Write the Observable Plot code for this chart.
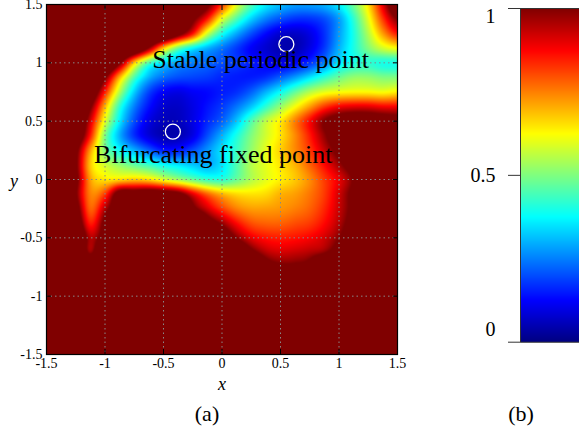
<!DOCTYPE html>
<html><head><meta charset="utf-8">
<script src="https://cdn.jsdelivr.net/npm/d3@7"></script>
<script src="https://cdn.jsdelivr.net/npm/@observablehq/plot@0.6"></script>
<style>
html,body{margin:0;padding:0;background:#fff;}
#wrap{position:relative;width:579px;height:441px;overflow:hidden;font-family:"Liberation Serif","Times New Roman",serif;}
#main{position:absolute;left:0;top:0;width:420px;}
#cbar{position:absolute;left:440px;top:0;width:200px;}
#main svg,#cbar svg{max-width:none;}
.lbl{position:absolute;color:#000;white-space:nowrap;transform:translate(-50%,-50%);line-height:1;}
</style></head><body>
<div id="wrap">
  <div id="main"></div>
  <div id="cbar"></div>
  <div class="lbl" style="left:222px;top:384px;font-size:18px;font-style:italic">x</div>
  <div class="lbl" style="left:14px;top:181px;font-size:18px;font-style:italic">y</div>
  <div class="lbl" style="left:207px;top:414px;font-size:22px">(a)</div>
  <div class="lbl" style="left:521px;top:414px;font-size:22px">(b)</div>
</div>
<script>
// grid node coordinates
const gridX = [-1.5,-1.375,-1.25,-1.125,-1,-0.875,-0.75,-0.625,-0.5,-0.375,-0.25,-0.125,0,0.125,0.25,0.375,0.5,0.625,0.75,0.875,1,1.125,1.25,1.375,1.5];
const gridY = [1.5,1.375,1.25,1.125,1,0.875,0.75,0.625,0.5,0.375,0.25,0.125,0,-0.125,-0.25,-0.375,-0.5,-0.625,-0.75,-0.875,-1,-1.125,-1.25,-1.375,-1.5];
// field values (>1 = saturated dark red), one row per gridY
const zRows = [
 [1.3,1.3,1.3,1.3,1.3,1.3,1.3,1.3,1.3,1.25,1.15,1.03,0.82,0.6,0.45,0.36,0.31,0.28,0.28,0.3,0.36,0.48,0.65,0.9,1.15],
 [1.3,1.3,1.3,1.3,1.3,1.3,1.3,1.3,1.3,1.18,1.03,0.85,0.6,0.45,0.33,0.25,0.2,0.17,0.17,0.2,0.28,0.42,0.6,0.82,1.0],
 [1.3,1.3,1.3,1.3,1.3,1.3,1.3,1.3,1.25,1.06,0.86,0.58,0.4,0.29,0.2,0.13,0.08,0.07,0.1,0.17,0.28,0.4,0.55,0.72,0.85],
 [1.3,1.3,1.3,1.3,1.3,1.3,1.2,0.98,0.68,0.48,0.37,0.3,0.24,0.18,0.12,0.08,0.05,0.05,0.1,0.18,0.3,0.4,0.5,0.58,0.62],
 [1.3,1.3,1.3,1.3,1.25,1.02,0.68,0.45,0.35,0.28,0.25,0.23,0.2,0.18,0.15,0.12,0.1,0.12,0.17,0.25,0.35,0.4,0.42,0.4,0.4],
 [1.3,1.3,1.3,1.25,1.02,0.7,0.45,0.3,0.23,0.2,0.19,0.18,0.16,0.15,0.15,0.17,0.22,0.28,0.35,0.42,0.48,0.52,0.52,0.5,0.5],
 [1.3,1.3,1.3,1.15,0.85,0.55,0.33,0.19,0.12,0.1,0.12,0.13,0.15,0.17,0.22,0.3,0.38,0.47,0.55,0.6,0.62,0.63,0.63,0.62,0.64],
 [1.3,1.3,1.25,1.02,0.7,0.42,0.25,0.14,0.08,0.07,0.1,0.14,0.18,0.24,0.32,0.42,0.52,0.62,0.72,0.82,0.88,0.9,0.9,0.88,0.88],
 [1.3,1.3,1.2,0.92,0.6,0.36,0.2,0.1,0.06,0.06,0.1,0.16,0.22,0.32,0.45,0.56,0.64,0.75,0.87,1.0,1.08,1.12,1.12,1.1,1.08],
 [1.3,1.3,1.15,0.85,0.5,0.3,0.17,0.09,0.05,0.05,0.1,0.2,0.3,0.4,0.5,0.58,0.65,0.74,0.85,0.98,1.1,1.2,1.25,1.25,1.25],
 [1.3,1.3,1.05,0.72,0.5,0.38,0.3,0.22,0.15,0.15,0.2,0.27,0.35,0.43,0.52,0.6,0.67,0.74,0.82,0.93,1.05,1.2,1.3,1.3,1.3],
 [1.3,1.3,1.03,0.68,0.58,0.52,0.47,0.43,0.38,0.35,0.32,0.3,0.35,0.45,0.55,0.6,0.65,0.7,0.78,0.87,0.97,1.1,1.3,1.3,1.3],
 [1.3,1.3,1.05,0.72,0.65,0.66,0.68,0.66,0.6,0.54,0.48,0.43,0.42,0.48,0.55,0.6,0.64,0.68,0.74,0.82,0.9,1.02,1.25,1.25,1.25],
 [1.3,1.3,1.02,0.75,0.82,1.08,1.1,1.12,1.1,1.05,0.9,0.78,0.7,0.66,0.65,0.66,0.7,0.72,0.76,0.82,0.92,1.05,1.25,1.25,1.25],
 [1.3,1.3,1.08,0.78,0.95,1.15,1.3,1.3,1.3,1.3,1.05,0.92,0.82,0.75,0.72,0.72,0.73,0.75,0.78,0.84,0.93,1.05,1.25,1.25,1.25],
 [1.3,1.3,1.15,0.85,1.05,1.3,1.3,1.3,1.3,1.3,1.3,1.1,0.98,0.87,0.8,0.78,0.78,0.8,0.82,0.87,0.95,1.08,1.25,1.25,1.25],
 [1.3,1.3,1.25,0.95,1.1,1.3,1.3,1.3,1.3,1.3,1.3,1.3,1.15,1.0,0.9,0.86,0.85,0.86,0.88,0.92,1.0,1.15,1.3,1.3,1.3],
 [1.3,1.3,1.3,0.98,1.3,1.3,1.3,1.3,1.3,1.3,1.3,1.3,1.3,1.2,1.05,0.95,0.92,0.93,0.95,0.99,1.1,1.3,1.3,1.3,1.3],
 [1.3,1.3,1.3,1.3,1.3,1.3,1.3,1.3,1.3,1.3,1.3,1.3,1.3,1.3,1.3,1.1,1.04,1.04,1.08,1.3,1.3,1.3,1.3,1.3,1.3],
 [1.3,1.3,1.3,1.3,1.3,1.3,1.3,1.3,1.3,1.3,1.3,1.3,1.3,1.3,1.3,1.3,1.3,1.3,1.3,1.3,1.3,1.3,1.3,1.3,1.3],
 [1.3,1.3,1.3,1.3,1.3,1.3,1.3,1.3,1.3,1.3,1.3,1.3,1.3,1.3,1.3,1.3,1.3,1.3,1.3,1.3,1.3,1.3,1.3,1.3,1.3],
 [1.3,1.3,1.3,1.3,1.3,1.3,1.3,1.3,1.3,1.3,1.3,1.3,1.3,1.3,1.3,1.3,1.3,1.3,1.3,1.3,1.3,1.3,1.3,1.3,1.3],
 [1.3,1.3,1.3,1.3,1.3,1.3,1.3,1.3,1.3,1.3,1.3,1.3,1.3,1.3,1.3,1.3,1.3,1.3,1.3,1.3,1.3,1.3,1.3,1.3,1.3],
 [1.3,1.3,1.3,1.3,1.3,1.3,1.3,1.3,1.3,1.3,1.3,1.3,1.3,1.3,1.3,1.3,1.3,1.3,1.3,1.3,1.3,1.3,1.3,1.3,1.3],
 [1.3,1.3,1.3,1.3,1.3,1.3,1.3,1.3,1.3,1.3,1.3,1.3,1.3,1.3,1.3,1.3,1.3,1.3,1.3,1.3,1.3,1.3,1.3,1.3,1.3]
];
// axis ticks
const axisTicks = [-1.5,-1,-0.5,0,0.5,1,1.5];
const cbTicks = [0,0.5,1];
// marked points
const ptX = [-0.42, 0.55];
const ptY = [0.41, 1.16];
// annotations
const annText = ["Stable periodic point", "Bifurcating fixed point"];
const annX = [-0.596, -1.093];
const annY = [1.023, 0.217];
// jet colormap stops
const jetStops = [0, 0.125, 0.375, 0.625, 0.875, 1];
const jetColors = ["#000080", "#0000ff", "#00ffff", "#ffff00", "#ff0000", "#800000"];

const points = [];
zRows.forEach((row, j) => row.forEach((v, i) => points.push({x: gridX[i], y: gridY[j], v})));
const color = {type: "linear", domain: jetStops, range: jetColors, interpolate: "rgb", clamp: true};
const fontFamily = "Liberation Serif, Times New Roman, serif";
const fmt = d => String(d);

// smooth (Catmull-Rom bicubic) raster interpolation over the regular sample grid
function cubic(p0, p1, p2, p3, t) {
  return p1 + 0.5 * t * (p2 - p0 + t * (2 * p0 - 5 * p1 + 4 * p2 - p3 + t * (3 * (p1 - p2) + p3 - p0)));
}
function bicubic(index, w, h, X, Y, V) {
  const idx = Array.from(index);
  const xs = [...new Set(idx.map(i => X[i]))].sort((a, b) => a - b);
  const ys = [...new Set(idx.map(i => Y[i]))].sort((a, b) => a - b);
  const nx = xs.length, ny = ys.length;
  const xk = new Map(xs.map((v, k) => [v, k])), yk = new Map(ys.map((v, k) => [v, k]));
  const G = new Float64Array(nx * ny);
  for (const i of idx) G[yk.get(Y[i]) * nx + xk.get(X[i])] = V[i];
  const g = (a, b) => G[Math.max(0, Math.min(ny - 1, b)) * nx + Math.max(0, Math.min(nx - 1, a))];
  const dx = (xs[nx - 1] - xs[0]) / (nx - 1), dy = (ys[ny - 1] - ys[0]) / (ny - 1);
  const out = new Float64Array(w * h);
  for (let r = 0; r < h; ++r) {
    const fy = Math.max(0, Math.min(ny - 1 - 1e-9, (r + 0.5 - ys[0]) / dy));
    const j = Math.floor(fy), ty = fy - j;
    for (let c = 0; c < w; ++c) {
      const fx = Math.max(0, Math.min(nx - 1 - 1e-9, (c + 0.5 - xs[0]) / dx));
      const i = Math.floor(fx), tx = fx - i;
      const q = [];
      for (let m = -1; m <= 2; ++m) q.push(cubic(g(i - 1, j + m), g(i, j + m), g(i + 1, j + m), g(i + 2, j + m), tx));
      out[r * w + c] = cubic(q[0], q[1], q[2], q[3], ty);
    }
  }
  return out;
}

const main = Plot.plot({
  width: 420, height: 380,
  marginLeft: 46, marginRight: 23, marginTop: 4, marginBottom: 26,
  style: {fontFamily, fontSize: "14px", background: "transparent", color: "#000", overflow: "visible"},
  x: {domain: [-1.5, 1.5], label: null},
  y: {domain: [-1.5, 1.5], label: null},
  color,
  marks: [
    Plot.raster(points, {x: "x", y: "y", fill: "v", interpolate: bicubic}),
    Plot.gridX(axisTicks, {stroke: "#888", strokeOpacity: 1, strokeDasharray: "1.5,3"}),
    Plot.gridY(axisTicks, {stroke: "#888", strokeOpacity: 1, strokeDasharray: "1.5,3"}),
    Plot.axisX(axisTicks, {anchor: "bottom", label: null, tickSize: 0, tickPadding: 4, tickFormat: fmt, fontSize: 14, fontFamily}),
    Plot.axisY(axisTicks, {anchor: "left", label: null, tickSize: 0, tickPadding: 4, tickFormat: fmt, fontSize: 14, fontFamily}),
    Plot.axisX(axisTicks, {anchor: "bottom", label: null, tickSize: -5, tickFormat: () => ""}),
    Plot.axisX(axisTicks, {anchor: "top", label: null, tickSize: -5, tickFormat: () => ""}),
    Plot.axisY(axisTicks, {anchor: "left", label: null, tickSize: -5, tickFormat: () => ""}),
    Plot.axisY(axisTicks, {anchor: "right", label: null, tickSize: -5, tickFormat: () => ""}),
    Plot.frame({stroke: "#000", strokeWidth: 1.2}),
    Plot.dot(ptX.map((x, i) => ({x, y: ptY[i]})), {x: "x", y: "y", r: 7.5, stroke: "#fff", strokeWidth: 1.3, fill: "none"}),
    Plot.text(annText.map((t, i) => ({t, x: annX[i], y: annY[i]})), {x: "x", y: "y", text: "t", textAnchor: "start", fontSize: 26, fontFamily, fill: "#000"})
  ]
});
document.getElementById("main").appendChild(main);

const cbar = Plot.plot({
  width: 200, height: 350,
  marginLeft: 80, marginRight: 0, marginTop: 8, marginBottom: 8.3,
  style: {fontFamily, fontSize: "20px", background: "transparent", color: "#000", overflow: "visible"},
  x: {domain: [0, 1], axis: null},
  y: {domain: [0, 1], axis: null},
  color,
  marks: [
    Plot.raster({x1: 0, x2: 1, y1: 0, y2: 1, fill: (x, y) => y, pixelSize: 1}),
    Plot.axisY(cbTicks, {anchor: "left", label: null, tickSize: 12, tickFormat: () => "", stroke: "#333"}),
    Plot.frame({stroke: "#333"}),
    Plot.text([1], {y: d => d, text: fmt, frameAnchor: "left", dx: -25, textAnchor: "end", lineAnchor: "top", fontSize: 20, fontFamily}),
    Plot.text([0.5], {y: d => d, text: fmt, frameAnchor: "left", dx: -25, textAnchor: "end", lineAnchor: "middle", fontSize: 20, fontFamily}),
    Plot.text([0], {y: d => d, text: fmt, frameAnchor: "left", dx: -25, textAnchor: "end", lineAnchor: "bottom", dy: -6, fontSize: 20, fontFamily})
  ]
});
document.getElementById("cbar").appendChild(cbar);
</script>
</body></html>
